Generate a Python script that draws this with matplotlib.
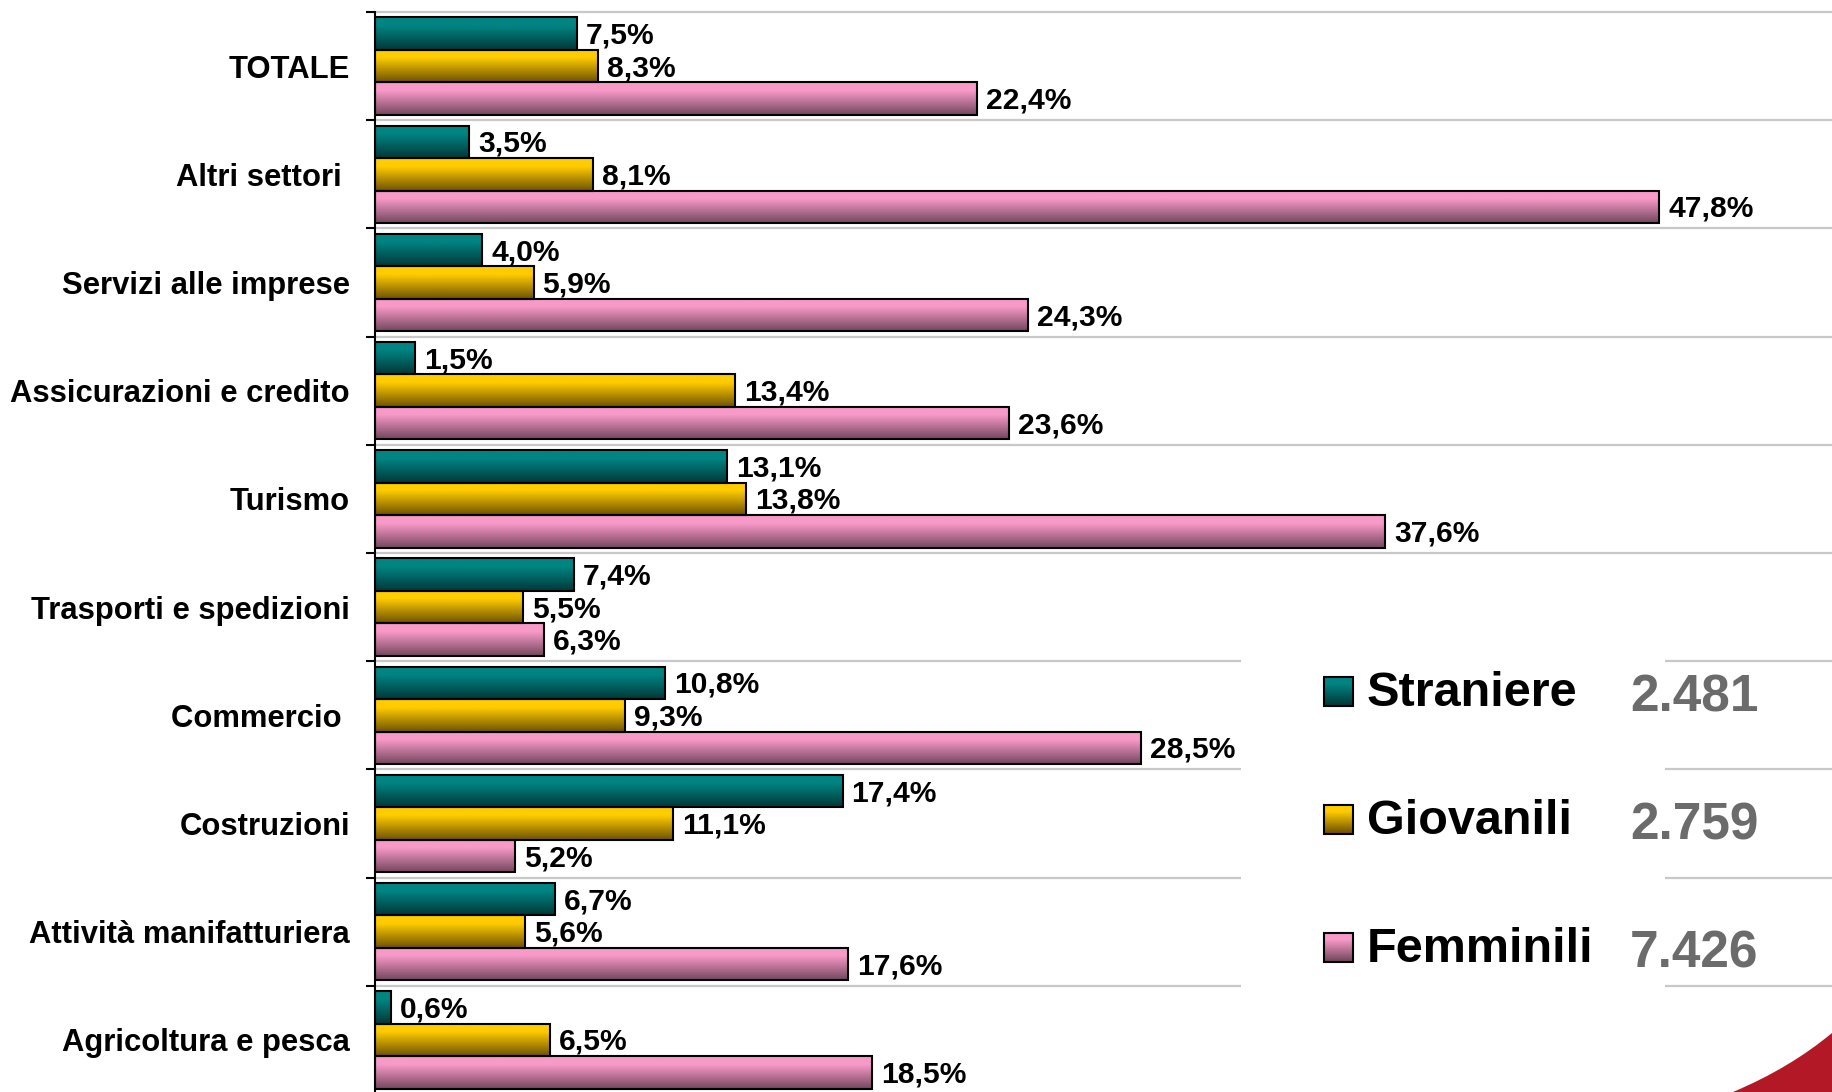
import numpy as np
import matplotlib
matplotlib.use('Agg')
import matplotlib.pyplot as plt
from matplotlib.colors import to_rgb
from matplotlib.patches import Rectangle, PathPatch
from matplotlib.path import Path

plt.rcParams['font.family'] = ['Liberation Sans', 'DejaVu Sans']

categorie = ['TOTALE', 'Altri settori ', 'Servizi alle imprese', 'Assicurazioni e credito',
             'Turismo', 'Trasporti e spedizioni', 'Commercio ', 'Costruzioni',
             'Attività manifatturiera', 'Agricoltura e pesca']
straniere = [7.5, 3.5, 4.0, 1.5, 13.1, 7.4, 10.8, 17.4, 6.7, 0.6]
giovanili = [8.3, 8.1, 5.9, 13.4, 13.8, 5.5, 9.3, 11.1, 5.6, 6.5]
femminili = [22.4, 47.8, 24.3, 23.6, 37.6, 6.3, 28.5, 5.2, 17.6, 18.5]
serie = ['Straniere', 'Giovanili', 'Femminili']
totali = ['2.481', '2.759', '7.426']

# (colore in alto, colore in basso) per il gradiente
colori = [('#008583', '#003838'), ('#FFCC00', '#6E5200'), ('#F89AC8', '#74475E')]


def gradiente(top, bottom, n=64):
    t = np.linspace(0, 1, n)
    # parte alta chiara, poi scurisce verso il basso
    t = np.clip(t / 0.75, 0, 1)
    a, b = np.array(to_rgb(bottom)), np.array(to_rgb(top))
    g = a + (b - a) * t[:, None]
    return g[:, None, :]


W, H = 1832, 1092
fig = plt.figure(figsize=(W / 100, H / 100), dpi=100)
ax = fig.add_axes([375 / W, -2 / H, 1 - 375 / W, 1082 / H])

n = len(categorie)
y = np.arange(n)[::-1]
h = 0.3
for k, (vals, (ctop, cbot)) in enumerate(zip([straniere, giovanili, femminili], colori)):
    pos = y + h * (1 - k)
    bars = ax.barh(pos, vals, height=h, facecolor='none', edgecolor='black', linewidth=1.5, zorder=4)
    img = gradiente(ctop, cbot)
    for b, v in zip(bars, vals):
        x0, y0, bw, bh = b.get_x(), b.get_y(), b.get_width(), b.get_height()
        ax.imshow(img, extent=[x0, x0 + bw, y0, y0 + bh], origin='lower', aspect='auto',
                  interpolation='bilinear', zorder=3)
        ax.annotate(f'{v:.1f}%'.replace('.', ','), (x0 + bw, y0 + bh / 2), xytext=(6.5, -1.5),
                    textcoords='offset points', va='center', ha='left', fontsize=21.6,
                    fontweight='bold', zorder=5)

for yb in np.arange(n + 1) - 0.5:
    ax.axhline(yb, color='#C8C8C8', linewidth=1.6, zorder=1, clip_on=False)

ax.set_xlim(0, (W - 375) / 26.87)
ax.set_ylim(-0.5, n - 0.5)
ax.set_yticks(np.arange(n + 1) - 0.5)
ax.set_yticklabels([])
ax.set_yticks(y, minor=True)
ax.set_yticklabels(categorie, minor=True, fontsize=22.3, fontweight='bold')
ax.tick_params(axis='y', which='major', length=6.5, width=1.5, direction='out')
ax.tick_params(axis='y', which='minor', length=0, pad=18)
ax.set_xticks([])
for s in ['top', 'right', 'bottom']:
    ax.spines[s].set_visible(False)
ax.spines['left'].set_linewidth(1.5)
ax.spines['left'].set_zorder(6)
ax.patch.set_visible(False)

# riquadro legenda in pixel della figura
lg = fig.add_axes([0, 0, 1, 1])
lg.set_xlim(0, W)
lg.set_ylim(H, 0)
lg.axis('off')
lg.patch.set_visible(False)
lg.add_patch(Rectangle((1241, 600), 1665 - 1241, H - 600, facecolor='white', edgecolor='none', zorder=1))

righe = [691, 819, 947]
for nome, tot, (ctop, cbot), yy in zip(serie, totali, colori, righe):
    s = 29
    lg.imshow(gradiente(ctop, cbot), extent=[1324, 1324 + s, yy + s / 2, yy - s / 2], origin='lower',
              aspect='auto', interpolation='bilinear', zorder=2)
    lg.add_patch(Rectangle((1324, yy - s / 2), s, s, facecolor='none', edgecolor='black', linewidth=1.5, zorder=3))
    lg.text(1367, yy + 3, nome, fontsize=35, fontweight='bold', va='center', ha='left', zorder=3)
    lg.text(1630, yy + 7, tot, fontsize=37, fontweight='bold', color='#6B6B6B', va='center', ha='left', zorder=3)

# angolo rosso in basso a destra
verts = [(1733, H), (1790, 1068), (W, 1033), (W, H), (1733, H)]
codes = [Path.MOVETO, Path.CURVE3, Path.CURVE3, Path.LINETO, Path.CLOSEPOLY]
lg.add_patch(PathPatch(Path(verts, codes), facecolor='#B31826', edgecolor='none', zorder=3))
lg.set_xlim(0, W)
lg.set_ylim(H, 0)

fig.savefig('out.png', dpi=100)
